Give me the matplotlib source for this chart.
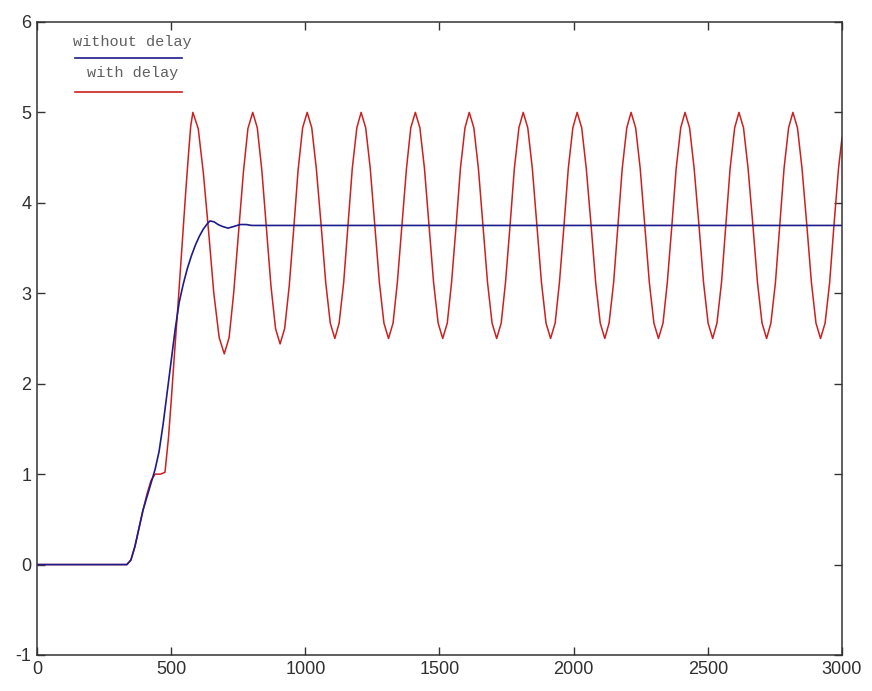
import matplotlib
matplotlib.use("Agg")
import matplotlib.pyplot as plt

plt.rcParams['axes.unicode_minus'] = False

# без задержки (синяя линия)
blue_x = [0, 335, 350, 365, 380, 395, 410, 425, 440, 455, 470, 485, 500, 515,
          530, 545, 560, 575, 590, 605, 620, 635, 645, 660, 675, 690, 712, 735,
          757, 780, 800, 830, 3000]
blue_y = [0, 0, 0.05, 0.2, 0.4, 0.6, 0.75, 0.9, 1.05, 1.25, 1.55, 1.9, 2.25, 2.6,
          2.9, 3.1, 3.27, 3.41, 3.53, 3.63, 3.71, 3.77, 3.8, 3.79, 3.76, 3.74, 3.72, 3.74,
          3.76, 3.76, 3.75, 3.75, 3.75]

red_x = [0, 335, 350, 365, 380, 395, 410, 425, 440, 460, 477, 490, 500, 511, 525, 540, 555, 565, 573,
         581, 601, 620, 640, 659, 679,
         698, 716, 733, 751, 769, 786,
         804, 821, 838, 855, 872, 889,
         906, 923, 940, 957, 973, 990,
         1007, 1024, 1041, 1059, 1076, 1093,
         1110, 1126, 1143, 1159, 1175, 1192,
         1208, 1225, 1242, 1259, 1276, 1293,
         1310, 1327, 1343, 1360, 1377, 1393,
         1410, 1427, 1444, 1461, 1478, 1495,
         1512, 1529, 1545, 1562, 1578, 1595,
         1611, 1628, 1645, 1662, 1679, 1696,
         1713, 1730, 1746, 1763, 1779, 1796,
         1812, 1829, 1846, 1863, 1880, 1897,
         1914, 1931, 1947, 1964, 1980, 1997,
         2013, 2030, 2047, 2065, 2082, 2099,
         2116, 2132, 2149, 2165, 2181, 2198,
         2214, 2231, 2248, 2265, 2282, 2299,
         2316, 2333, 2349, 2366, 2382, 2399,
         2415, 2432, 2449, 2467, 2484, 2501,
         2518, 2534, 2551, 2567, 2583, 2600,
         2616, 2633, 2650, 2668, 2685, 2702,
         2719, 2735, 2752, 2768, 2784, 2801,
         2817, 2834, 2851, 2869, 2886, 2903,
         2920, 2937, 2954, 2970, 2987, 3000]
red_y = [0, 0, 0.05, 0.2, 0.4, 0.6, 0.78, 0.93, 1.0, 1.0, 1.02, 1.4, 1.8, 2.27, 2.85, 3.5, 4.15, 4.55, 4.85,
         5.0, 4.82, 4.33, 3.67, 3.0, 2.51,
         2.33, 2.51, 3.0, 3.67, 4.33, 4.82,
         5.0, 4.83, 4.36, 3.72, 3.08, 2.61,
         2.44, 2.61, 3.08, 3.72, 4.36, 4.83,
         5.0, 4.83, 4.38, 3.75, 3.12, 2.67,
         2.5, 2.67, 3.12, 3.75, 4.38, 4.83,
         5.0, 4.83, 4.38, 3.75, 3.12, 2.67,
         2.5, 2.67, 3.12, 3.75, 4.38, 4.83,
         5.0, 4.83, 4.38, 3.75, 3.12, 2.67,
         2.5, 2.67, 3.12, 3.75, 4.38, 4.83,
         5.0, 4.83, 4.38, 3.75, 3.12, 2.67,
         2.5, 2.67, 3.12, 3.75, 4.38, 4.83,
         5.0, 4.83, 4.38, 3.75, 3.12, 2.67,
         2.5, 2.67, 3.12, 3.75, 4.38, 4.83,
         5.0, 4.83, 4.38, 3.75, 3.12, 2.67,
         2.5, 2.67, 3.12, 3.75, 4.38, 4.83,
         5.0, 4.83, 4.38, 3.75, 3.12, 2.67,
         2.5, 2.67, 3.12, 3.75, 4.38, 4.83,
         5.0, 4.83, 4.38, 3.75, 3.12, 2.67,
         2.5, 2.67, 3.12, 3.75, 4.38, 4.83,
         5.0, 4.83, 4.38, 3.75, 3.12, 2.67,
         2.5, 2.67, 3.12, 3.75, 4.38, 4.83,
         5.0, 4.83, 4.38, 3.75, 3.12, 2.67,
         2.5, 2.67, 3.12, 3.75, 4.38, 4.72]

x_ticks = [0, 500, 1000, 1500, 2000, 2500, 3000]
x_tick_labels = ["0", "500", "1000", "1500", "2000", "2500", "3000"]
y_ticks = [-1, 0, 1, 2, 3, 4, 5, 6]
legend_labels = ["without delay", "with delay"]

fig = plt.figure(figsize=(8.72, 6.91), dpi=100)
ax = fig.add_axes([0.0424, 0.0521, 0.9232, 0.9161])

ax.plot(red_x, red_y, color="#cc2020", lw=1.1)
ax.plot(blue_x, blue_y, color="#1c1c8a", lw=1.2)

ax.set_xlim(0, 3000)
ax.set_ylim(-1, 6)
ax.set_xticks(x_ticks)
ax.set_xticklabels(x_tick_labels)
ax.set_yticks(y_ticks)

tick_font = ["Liberation Sans Narrow", "Liberation Sans", "DejaVu Sans"]
for lab in ax.get_xticklabels() + ax.get_yticklabels():
    lab.set_family(tick_font)
    lab.set_fontsize(13)
    lab.set_color("#303030")

ax.tick_params(direction="in", length=6, width=1, top=True, right=True,
               color="#333333", pad=4)
for sp in ax.spines.values():
    sp.set_color("#333333")
    sp.set_linewidth(1.1)

# самодельная легенда: текст над линией
ax.text(0.1186, 0.968, legend_labels[0], transform=ax.transAxes, ha="center", va="center",
        family=["Liberation Mono", "DejaVu Sans Mono"], fontsize=11, color="#606060")
ax.plot([0.047, 0.180], [0.943, 0.943], transform=ax.transAxes, color="#1c1c8a", lw=1.2)
ax.text(0.119, 0.919, legend_labels[1], transform=ax.transAxes, ha="center", va="center",
        family=["Liberation Mono", "DejaVu Sans Mono"], fontsize=11, color="#606060")
ax.plot([0.047, 0.180], [0.889, 0.889], transform=ax.transAxes, color="#cc2020", lw=1.2)

fig.savefig("out.png", dpi=100)
